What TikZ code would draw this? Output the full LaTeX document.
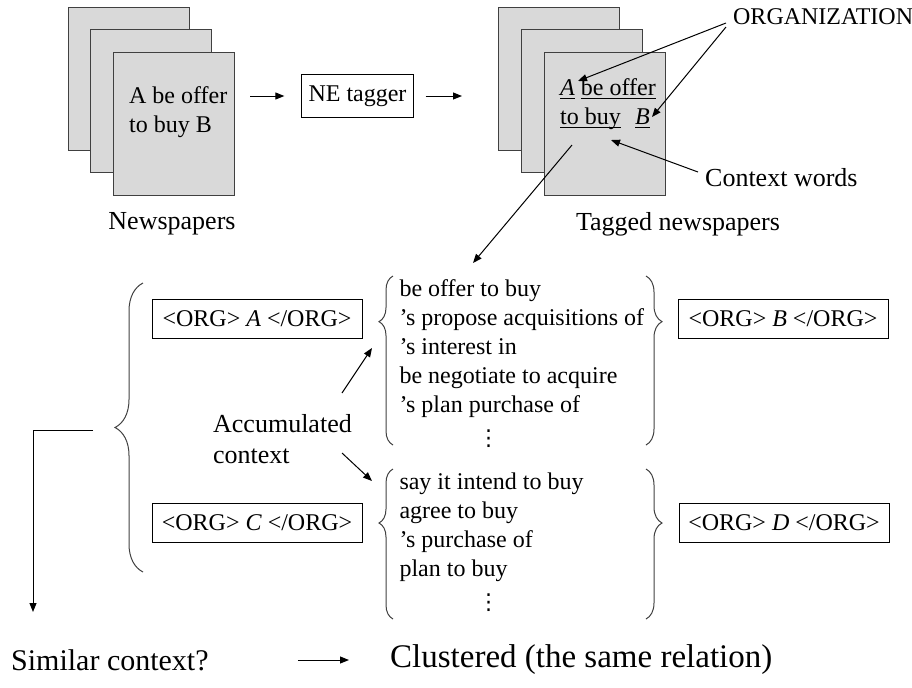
\documentclass[tikz,border=0pt]{standalone}
\usepackage{fontspec}
\setmainfont{Liberation Serif}
\newfontfamily\symfont{DejaVu Sans}
\usetikzlibrary{arrows.meta, decorations.pathreplacing, positioning}
\tikzstyle{page} = [draw=black!75, fill=black!15, line width=0.6pt, anchor=north west,
   minimum width=60.5pt, minimum height=71.5pt, inner sep=0pt]
\tikzstyle{orgbox} = [draw, minimum width=105pt, minimum height=19.5pt, inner sep=0pt]
\tikzstyle{flow} = [-{Triangle[length=4.5pt,width=3.5pt]}]
\tikzstyle{ctx} = [align=left, anchor=north west, inner sep=0pt]
\tikzstyle{curly} = [decorate, draw=black!75]
\tikzstyle{label} = [font=\fontsize{13}{15.5}\selectfont]
\newcommand{\tagul}[1]{\underline{\smash{#1}}}
\newcommand{\dotcol}{\hspace{39pt}{\symfont\fontsize{11}{13}\selectfont ⋮}}

\begin{document}
\begin{tikzpicture}[x=0.5pt, y=-0.5pt, line width=0.5pt, font=\fontsize{12}{14.5}\selectfont]
  \useasboundingbox (0,0) rectangle (912,687);

  \node[page] at (68,7)(nback){};
  \node[page] at (90,29)(nmid){};
  \node[page] at (113,52)(nfront){};
  \node[align=left, anchor=west] at (122,112)(ntext){A be offer\\to buy B};
  \node[label] at (172,224)(npapers){Newspapers};

  \node[draw, minimum width=55.5pt, minimum height=21.5pt] at (357.5,96)(tagger){NE tagger};

  \node[page] at (498,7)(tback){};
  \node[page] at (521,29)(tmid){};
  \node[page] at (544,52)(tfront){};
  \node[align=left, anchor=west] at (553,112)(ttext){\tagul{\textit{A}} \tagul{be offer}\\
    \tagul{to buy}\hspace{0.6em}\tagul{\textit{B}}};
  \node[label] at (678,224)(tpapers){Tagged newspapers};
  \node[anchor=west] at (726,17)(org){ORGANIZATION};
  \node[label, anchor=west] at (698,178)(cwords){Context words};

  \coordinate (tagA) at (578,81);
  \coordinate (tagB) at (652,117);
  \coordinate (tagctx) at (611,140);
  \coordinate (tfoot) at (572,145);

  \node[orgbox] at (257,319)(orgA){<ORG> \textit{A} </ORG>};
  \node[orgbox] at (257,523)(orgC){<ORG> \textit{C} </ORG>};
  \node[orgbox] at (783,319)(orgB){<ORG> \textit{B} </ORG>};
  \node[orgbox] at (784,523)(orgD){<ORG> \textit{D} </ORG>};

  \node[ctx] at (399,279)(ctxA){be offer to buy\\’s propose acquisitions of\\’s interest in\\
    be negotiate to acquire\\’s plan purchase of\\[2pt]\dotcol};
  \node[ctx] at (399,472)(ctxC){say it intend to buy\\agree to buy\\’s purchase of\\
    plan to buy\\[2pt]\dotcol};

  \node[label, align=left, anchor=west] at (206,439)(accum){Accumulated\\context};
  \coordinate (upfrom) at (342,393);
  \coordinate (upto) at (372,348);
  \coordinate (dnfrom) at (342,453);
  \coordinate (dnto) at (372,481);

  \node[anchor=west, font=\fontsize{15}{18}\selectfont] at (4,660)(sim){Similar context?};
  \node[anchor=west, font=\fontsize{16.5}{19}\selectfont] at (383,660)(clus){Clustered (the same relation)};
  \coordinate (fb) at (93,430);
  \coordinate (simtop) at (33,612);

  \draw[curly, decoration={brace, amplitude=14pt}] (143,572) -- (143,283);
  \draw[curly, decoration={brace, amplitude=7pt, aspect=0.73}] (393,445) -- (393,276);
  \draw[curly, decoration={brace, amplitude=8pt, aspect=0.27}] (646,276) -- (646,445);
  \draw[curly, decoration={brace, amplitude=7pt, aspect=0.64}] (393,619) -- (393,469);
  \draw[curly, decoration={brace, amplitude=8pt, aspect=0.36}] (646,469) -- (646,619);

  \draw[flow, shorten <=7.5pt, shorten >=8.5pt] (tagger.west -| nfront.east) -- (tagger.west);
  \draw[flow, shorten <=6pt, shorten >=18pt] (tagger.east) -- (tagger.east -| tback.west);
  \draw[flow] ([yshift=-3pt]org.west) -- (tagA);
  \draw[flow] ([yshift=-5pt]org.west) -- (tagB);
  \draw[flow] ([yshift=3pt]cwords.west) -- (tagctx);
  \draw[flow] (tfoot) -- ([xshift=37pt,yshift=8pt]ctxA.north west);
  \draw[flow] (upfrom) -- (upto);
  \draw[flow] (dnfrom) -- (dnto);
  \draw[flow] (fb) -| (simtop);
  \draw[flow, shorten <=41pt, shorten >=17pt] (sim.east) -- (clus.west);
\end{tikzpicture}
\end{document}
